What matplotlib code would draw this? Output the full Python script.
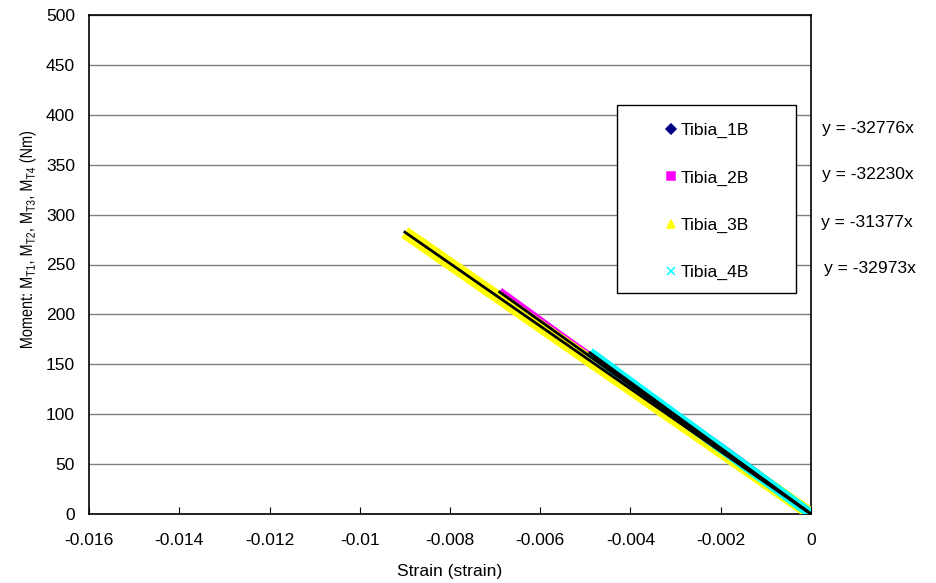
import numpy as np
from matplotlib import pyplot as plt
from matplotlib.patches import Rectangle, PathPatch
from matplotlib.textpath import TextPath
from matplotlib.font_manager import FontProperties
from matplotlib.transforms import Affine2D

plt.rcParams['font.family'] = ['Liberation Sans', 'DejaVu Sans']
plt.rcParams['mathtext.fontset'] = 'custom'
plt.rcParams['mathtext.rm'] = 'Liberation Sans'
plt.rcParams['mathtext.it'] = 'Liberation Sans:italic'
plt.rcParams['mathtext.bf'] = 'Liberation Sans:bold'

# measured strain / moment points for each tibia specimen
strain_1b = [0.0, -0.0010, -0.0020, -0.0030, -0.0040, -0.0048]
moment_1b = [0.0, 33, 66, 98, 131, 158]

strain_2b = [0.0, -0.0010, -0.0025, -0.0040, -0.0055, -0.0069]
moment_2b = [0.0, 33, 81, 129, 177, 223]

strain_3b = [0.0, -0.0015, -0.0030, -0.0045, -0.0060, -0.0075, -0.0090]
moment_3b = [0.0, 47, 94, 141, 188, 235, 282]

strain_4b = [0.0, -0.0010, -0.0020, -0.0030, -0.0040, -0.0049]
moment_4b = [0.0, 33, 66, 99, 132, 162]

labels = ['Tibia_1B', 'Tibia_2B', 'Tibia_3B', 'Tibia_4B']
colors = ['#000080', '#FF00FF', '#FFFF00', '#00FFFF']
markers = ['D', 's', '^', 'x']
slopes = [-32776, -32230, -31377, -32973]

ylabel = ('Moment: M$_{\\mathrm{T1}}$, M$_{\\mathrm{T2}}$, '
          'M$_{\\mathrm{T3}}$, M$_{\\mathrm{T4}}$ (Nm)')

xs = [strain_1b, strain_2b, strain_3b, strain_4b]
ys = [moment_1b, moment_2b, moment_3b, moment_4b]
band = [7, 6, 9, 7]

W, H = 937, 583
fs = 12.6

fig = plt.figure(figsize=(W / 100, H / 100), dpi=100)
ax = fig.add_axes([89 / W, 1 - 514 / H, (811 - 89) / W, (514 - 15) / H])

# dense scatter shows up as a thick band; draw it as a wide line
for x, y, c, w in zip(xs, ys, colors, band):
    ax.plot(x, y, color=c, lw=w, solid_capstyle='butt', zorder=3)

# linear trendlines through the origin
for x, s in zip(xs, slopes):
    tx = np.array([min(x), 0.0])
    ax.plot(tx, s * tx, color='black', lw=2, zorder=4)

ax.set_xlim(-0.016, 0)
ax.set_ylim(0, 500)
ax.set_xticks(np.arange(-0.016, 0.0001, 0.002))
ax.set_xticklabels(['-0.016', '-0.014', '-0.012', '-0.01', '-0.008',
                    '-0.006', '-0.004', '-0.002', '0'])
ax.set_yticks(np.arange(0, 501, 50))
ax.yaxis.grid(True, color='#808080', lw=1)
ax.set_axisbelow(True)
ax.tick_params(axis='x', direction='in', length=5, labelsize=fs, pad=14)
ax.tick_params(axis='y', length=0, labelsize=fs, pad=10)
for sp in ax.spines.values():
    sp.set_linewidth(1.2)

ax.set_xlabel('Strain (strain)', fontsize=fs, labelpad=11)

# condensed, rotated y label drawn as a glyph path in pixel space
tp = TextPath((0, 0), ylabel, size=fs * 100 / 72,
              prop=FontProperties(family='Liberation Sans'))
ext = tp.get_extents()
squeeze = 216 / ext.width
tr = (Affine2D().translate(-ext.x0, 0).scale(squeeze, 1).rotate_deg(90)
      .translate(32, H - 348))
fig.patches.append(PathPatch(tr.transform_path(tp), facecolor='black',
                             edgecolor='none', transform=None, zorder=5))

# legend box
fig.patches.append(Rectangle((617 / W, 1 - 293 / H), (796 - 617) / W,
                             (293 - 105) / H, transform=fig.transFigure,
                             facecolor='white', edgecolor='black', lw=1,
                             zorder=5))

handles = [plt.Line2D([], [], ls='none', marker=m, color=c, markersize=6,
                      markeredgewidth=1.1)
           for m, c in zip(markers, colors)]
handles[0].set_markersize(5)
leg = fig.legend(handles, labels, loc='upper left',
                 bbox_to_anchor=(666 / W, 1 - 123 / H), frameon=False,
                 fontsize=fs, handlelength=0.6, handletextpad=0.25,
                 labelspacing=1.82, borderpad=0, borderaxespad=0)
leg.set_zorder(6)

eq_y = [128, 175, 223, 269]
eq_x = [822, 822, 821, 824]
for s, yp, xp in zip(slopes, eq_y, eq_x):
    fig.text(xp / W, 1 - yp / H, 'y = %dx' % s, fontsize=fs, va='center')

fig.savefig('out.png', dpi=100)
